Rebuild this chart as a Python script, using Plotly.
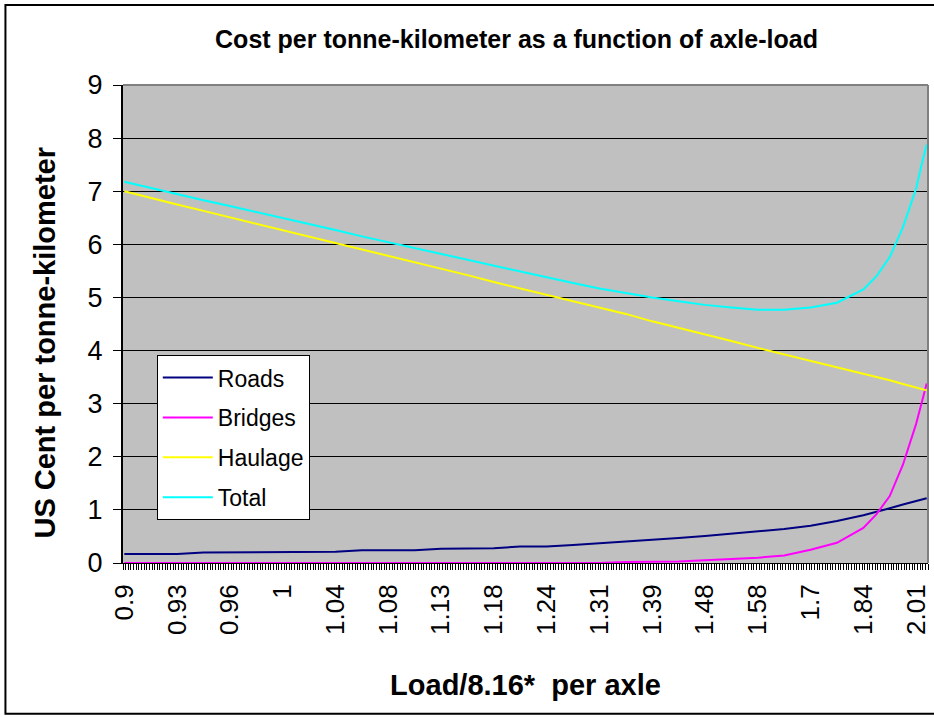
import plotly.graph_objects as go

# ---- data ----
tick_labels = ["0.9", "0.93", "0.96", "1", "1.04", "1.08", "1.13", "1.18", "1.24",
               "1.31", "1.39", "1.48", "1.58", "1.7", "1.84", "2.01"]
n_categories = 305
label_every = 20

load_idx = [0, 10, 20, 30, 40, 50, 60, 70, 80, 90, 100, 110, 120, 130, 140, 150, 160,
            170, 180, 190, 200, 210, 220, 230, 240, 250, 260, 270, 280, 285, 290, 295,
            300, 302, 304]
roads = [0.17, 0.17, 0.17, 0.20, 0.20, 0.20, 0.20, 0.20, 0.21, 0.24, 0.24, 0.24, 0.27,
         0.27, 0.28, 0.31, 0.31, 0.34, 0.37, 0.40, 0.43, 0.47, 0.51, 0.55, 0.60, 0.64,
         0.70, 0.79, 0.90, 0.96, 1.03, 1.10, 1.17, 1.19, 1.22]
bridges = [0, 0, 0, 0, 0, 0, 0, 0, 0, 0, 0, 0, 0, 0, 0, 0, 0, 0, 0,
           0.02, 0.02, 0.03, 0.05, 0.07, 0.10, 0.14, 0.25, 0.38, 0.66, 0.92, 1.26,
           1.85, 2.62, 3.00, 3.38]
haulage = [7.00, 6.87, 6.75, 6.63, 6.51, 6.39, 6.26, 6.14, 6.02, 5.90, 5.78, 5.66, 5.54,
           5.42, 5.29, 5.17, 5.05, 4.93, 4.81, 4.69, 4.55, 4.43, 4.31, 4.18, 4.05, 3.93,
           3.81, 3.68, 3.56, 3.50, 3.44, 3.37, 3.31, 3.28, 3.25]
total = [7.18, 7.06, 6.94, 6.83, 6.72, 6.61, 6.49, 6.38, 6.27, 6.15, 6.04, 5.93, 5.81,
         5.70, 5.59, 5.48, 5.37, 5.27, 5.17, 5.08, 5.00, 4.93, 4.86, 4.81, 4.77, 4.77,
         4.81, 4.90, 5.15, 5.40, 5.76, 6.32, 7.05, 7.48, 7.88]

series = [("Roads", roads, "#000080"),
          ("Bridges", bridges, "#FF00FF"),
          ("Haulage", haulage, "#FFFF00"),
          ("Total", total, "#00FFFF")]

FONT = "Liberation Sans, Arial, sans-serif"

fig = go.Figure()
for name, vals, color in series:
    fig.add_trace(go.Scatter(x=load_idx, y=vals, mode="lines", name=name,
                             legendgroup=name,
                             line=dict(color=color, width=2)))

tickvals = [i * label_every for i in range(len(tick_labels))]

fig.update_layout(
    width=934, height=718,
    paper_bgcolor="white", plot_bgcolor="#C0C0C0",
    margin=dict(l=123, r=3, t=85, b=155),
    font=dict(family=FONT, color="black"),
    title=dict(text="<b>Cost per tonne-kilometer as a function of axle-load</b>",
               font=dict(size=25, family=FONT), x=0.553, xanchor="center",
               y=1 - 39 / 718, yanchor="middle"),
    showlegend=True,
    legend=dict(x=0.042, y=0.435, xanchor="left", yanchor="top",
                bgcolor="white", bordercolor="black", borderwidth=1,
                font=dict(size=23, family=FONT), tracegroupgap=7,
                itemwidth=50, traceorder="grouped"),
    xaxis=dict(range=[-0.5, n_categories - 0.5], tickmode="array",
               tickvals=tickvals, ticktext=tick_labels, tickangle=-90,
               tickfont=dict(size=26, family=FONT), ticks="",
               showgrid=False, zeroline=False, showline=True,
               linecolor="black", linewidth=1, ticklabelstandoff=10,
               minor=dict(tick0=-0.5, dtick=1, ticks="outside", ticklen=6,
                          tickcolor="black", tickwidth=1, showgrid=False),
               title=dict(text="<b>Load/8.16*  per axle</b>",
                          font=dict(size=29, family=FONT), standoff=40)),
    yaxis=dict(range=[0, 9], dtick=1, tick0=0, ticks="outside", ticklen=8,
               tickcolor="black", tickfont=dict(size=27, family=FONT),
               showgrid=True, gridcolor="black", gridwidth=1, zeroline=False,
               showline=True, linecolor="black", linewidth=2,
               ticklabelstandoff=5),
    annotations=[dict(text="<b>US Cent per tonne-kilometer</b>", textangle=-90,
                      xref="paper", yref="paper", x=(45 - 123) / 808,
                      y=(562.5 - 342) / 477.5, xanchor="center", yanchor="middle",
                      showarrow=False, font=dict(size=29, family=FONT))],
)

# plot-area border (top/right grey) and outer chart border
fig.add_shape(type="line", xref="paper", yref="paper", x0=0, x1=1, y0=1, y1=1,
              line=dict(color="#808080", width=2))
fig.add_shape(type="line", xref="paper", yref="paper", x0=1, x1=1, y0=0, y1=1,
              line=dict(color="#808080", width=2))
fig.add_shape(type="rect", xref="paper", yref="paper",
              x0=(5 - 123) / 808, x1=(940 - 123) / 808,
              y0=-(713 - 562.5) / 477.5, y1=1 + (85 - 5) / 477.5,
              line=dict(color="black", width=2), layer="below")

fig.write_html(
    "out.html",
    config={"displayModeBar": False},
    post_script="document.body.style.margin='0';document.body.style.overflow='hidden';",
)
